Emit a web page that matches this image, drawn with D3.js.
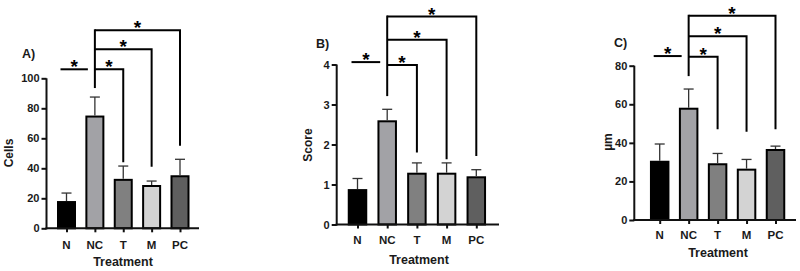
<!DOCTYPE html>
<html>
<head>
<meta charset="utf-8">
<script src="https://cdn.jsdelivr.net/npm/d3@7"></script>
<style>
  html, body { margin: 0; padding: 0; background: #fff; }
  svg { display: block; font-family: "Liberation Sans", Arial, sans-serif; font-weight: bold; }
  .axis path, .axis line { stroke: #111; stroke-width: 2; }
  .axis text { font-size: 11px; font-weight: bold; fill: #1a1a1a; font-family: "Liberation Sans", Arial, sans-serif; }
</style>
</head>
<body>
<svg id="chart" width="800" height="271"></svg>
<script>
const categories = ["N", "NC", "T", "M", "PC"];
const barColors = ["#000000", "#a2a2a6", "#808080", "#d3d3d3", "#5f5f5f"];

// A) cells
const cellsMean = [17.5, 74.5, 32.3, 28.2, 34.7];
const cellsSd = [6, 13, 9.2, 3.3, 11.3];
const cellsTicks = [0, 20, 40, 60, 80, 100];
// B) score
const scoreMean = [0.86, 2.58, 1.27, 1.27, 1.18];
const scoreSd = [0.29, 0.3, 0.27, 0.27, 0.19];
const scoreTicks = [0, 1, 2, 3, 4];
// C) µm
const umMean = [30.2, 57.7, 28.9, 26.1, 36.3];
const umSd = [9.2, 10.2, 5.6, 5.3, 2];
const umTicks = [0, 20, 40, 60, 80];

// significance brackets: [from, to, bar height, drop-to value]
const cellsBrackets = [["N", "NC", 106], ["NC", "T", 106, 44], ["NC", "M", 119.3, 41], ["NC", "PC", 132, 55]];
const cellsNcLeg = [93.5, 132];
const scoreBrackets = [["N", "NC", 4.06], ["NC", "T", 3.99, 1.8], ["NC", "M", 4.62, 1.63], ["NC", "PC", 5.2, 1.71]];
const scoreNcLeg = [3.21, 5.2];
const umBrackets = [["N", "NC", 85], ["NC", "T", 84.6, 47], ["NC", "M", 95.3, 45.8], ["NC", "PC", 105.9, 47]];
const umNcLeg = [74.6, 105.9];

const panels = [
  { tag: "A)", ylab: "Cells", mean: cellsMean, sd: cellsSd, ticks: cellsTicks, brackets: cellsBrackets, ncLeg: cellsNcLeg,
    x0: 46.5, xEnd: 199, first: 66.5, last: 180, yBottom: 228.3, yTop: 78.3, bw: 17,
    tagX: 22, tagY: 58, ylabX: 13, ylabY: 153, catY: 249, titleX: 123, titleY: 266 },
  { tag: "B)", ylab: "Score", mean: scoreMean, sd: scoreSd, ticks: scoreTicks, brackets: scoreBrackets, ncLeg: scoreNcLeg,
    x0: 336.7, xEnd: 499, first: 357.5, last: 476.3, yBottom: 224.5, yTop: 64.5, bw: 17.5,
    tagX: 316, tagY: 48, ylabX: 312, ylabY: 145, catY: 244, titleX: 419, titleY: 263.5 },
  { tag: "C)", ylab: "µm", mean: umMean, sd: umSd, ticks: umTicks, brackets: umBrackets, ncLeg: umNcLeg,
    x0: 634.3, xEnd: 796, first: 659.7, last: 775.5, yBottom: 220, yTop: 65.7, bw: 17.5,
    tagX: 614, tagY: 46.5, ylabX: 612, ylabY: 142, catY: 238.5, titleX: 718, titleY: 257 }
];

const svg = d3.select("#chart");

panels.forEach(p => {
  const g = svg.append("g");
  const x = d3.scalePoint().domain(categories).range([p.first, p.last]);
  const yMax = p.ticks[p.ticks.length - 1];
  const y = d3.scaleLinear().domain([0, yMax]).range([p.yBottom, p.yTop]);

  // bars
  g.selectAll("rect.bar")
    .data(categories)
    .join("rect")
    .attr("class", "bar")
    .attr("x", d => x(d) - p.bw / 2)
    .attr("width", p.bw)
    .attr("y", (d, i) => y(p.mean[i]))
    .attr("height", (d, i) => y(0) - y(p.mean[i]))
    .attr("fill", (d, i) => barColors[i])
    .attr("stroke", "#000")
    .attr("stroke-width", 2);

  // error bars (upper only)
  const err = g.append("g").attr("stroke", "#333").attr("stroke-width", 1.3);
  categories.forEach((c, i) => {
    const top = y(p.mean[i] + p.sd[i]);
    err.append("line").attr("x1", x(c)).attr("x2", x(c)).attr("y1", y(p.mean[i]) - 1).attr("y2", top);
    err.append("line").attr("x1", x(c) - 5).attr("x2", x(c) + 5).attr("y1", top).attr("y2", top);
  });

  // axes
  g.append("g")
    .attr("class", "axis")
    .attr("transform", `translate(${p.x0},0)`)
    .call(d3.axisLeft(y).tickValues(p.ticks).tickFormat(d3.format("d")).tickSize(5).tickSizeOuter(0).tickPadding(2))
    .call(a => a.select(".domain").attr("d", `M0,${p.yBottom + 1}V${p.yTop}`));

  g.append("g")
    .attr("class", "axis")
    .attr("transform", `translate(0,${p.yBottom})`)
    .call(d3.axisBottom(x).tickSize(4).tickSizeOuter(0).tickFormat(""))
    .call(a => a.select(".domain").attr("d", `M${p.x0 - 1},0H${p.xEnd}`));

  g.selectAll("text.cat")
    .data(categories)
    .join("text")
    .attr("class", "cat")
    .attr("x", d => x(d))
    .attr("y", p.catY)
    .attr("text-anchor", "middle")
    .attr("font-size", 11.5)
    .attr("fill", "#1a1a1a")
    .text(d => d);

  g.append("text")
    .attr("x", p.titleX).attr("y", p.titleY)
    .attr("text-anchor", "middle").attr("font-size", 12.5).attr("fill", "#1a1a1a")
    .text("Treatment");

  g.append("text")
    .attr("transform", `translate(${p.ylabX},${p.ylabY}) rotate(-90)`)
    .attr("text-anchor", "middle").attr("font-size", 12).attr("fill", "#1a1a1a")
    .text(p.ylab);

  g.append("text")
    .attr("x", p.tagX).attr("y", p.tagY)
    .attr("font-size", 12.5).attr("fill", "#1a1a1a")
    .text(p.tag);

  // significance brackets
  const br = g.append("g").attr("fill", "none").attr("stroke", "#000").attr("stroke-width", 2);
  const stars = g.append("g");
  br.append("line")
    .attr("x1", x("NC")).attr("x2", x("NC"))
    .attr("y1", y(p.ncLeg[0])).attr("y2", y(p.ncLeg[1]) - 1);
  p.brackets.forEach(([a, b, h, drop]) => {
    let xa, xb;
    if (drop === undefined) {
      xa = x(a) - 6; xb = x(b) - 7;
      br.append("line").attr("x1", xa).attr("x2", xb).attr("y1", y(h)).attr("y2", y(h));
    } else {
      xa = x(a); xb = x(b);
      br.append("path").attr("d", `M${xa},${y(h)}H${xb}V${y(drop)}`);
    }
    stars.append("text")
      .attr("x", (xa + xb) / 2)
      .attr("y", y(h) + 4)
      .attr("text-anchor", "middle")
      .attr("font-size", 19)
      .attr("fill", "#000")
      .text("*");
  });
});
</script>
</body>
</html>
